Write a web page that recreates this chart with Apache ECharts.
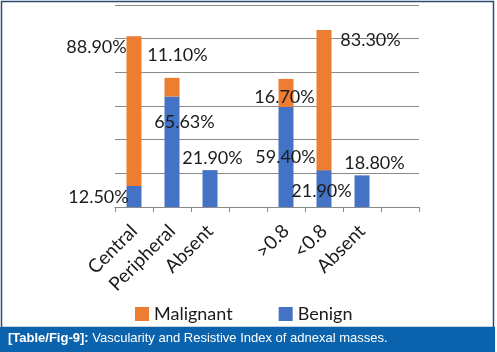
<!DOCTYPE html>
<html lang="en">
  <head>
    <meta charset="UTF-8" />
    <title>Vascularity and Resistive Index</title>
    <script src="https://cdn.jsdelivr.net/npm/echarts@6/dist/echarts.min.js"></script>
  </head>
  <body style="margin: 0; background: #fff">
    <div id="container" style="width: 497px; height: 352px"></div>
    <script>
      // data
      const categories = ["Central", "Peripheral", "Absent", "", ">0.8", "<0.8", "Absent", ""];
      const benign = [12.5, 65.63, 21.9, null, 59.4, 21.9, 18.8, null];
      const malignant = [88.9, 11.1, null, null, 16.7, 83.3, null, null];

      // hand placed label spots (px from bar top-left), like the excel original
      const benignLabelPos = [[-28, 11], [20, 26], [10, -12], null, [7, 50], [5, 21], [20, -12], null];
      const malignantLabelPos = [[-30, 11], [13, -23], null, null, [6, 18], [54, 10], null, null];

      const font = "Lato, 'Open Sans', sans-serif";

      function withLabels(values, spots) {
        return values.map((v, i) => {
          if (v == null) return null;
          return {
            value: v,
            label: {
              show: true,
              position: spots[i],
              align: "center",
              verticalAlign: "middle",
              formatter: (p) => p.value.toFixed(2) + "%",
              fontFamily: font,
              fontSize: 18,
              color: "#1b1b1b"
            }
          };
        });
      }

      let myChart = echarts.init(document.getElementById("container"));
      let option = {
        animation: false,
        grid: { left: 115, right: 78, top: 5, bottom: 145 },
        legend: {
          data: ["Malignant", "Benign"],
          left: 130,
          top: 300,
          icon: "rect",
          itemWidth: 14,
          itemHeight: 14,
          itemGap: 46,
          textStyle: { fontFamily: font, fontSize: 18, color: "#1b1b1b" }
        },
        xAxis: {
          type: "category",
          data: categories,
          axisLine: { lineStyle: { color: "#8a8a8a" } },
          axisTick: { show: true, interval: 0, length: 5, lineStyle: { color: "#8a8a8a" } },
          axisLabel: {
            interval: 0,
            rotate: 45,
            margin: 21,
            fontFamily: font,
            fontSize: 19,
            color: "#1b1b1b"
          }
        },
        yAxis: {
          type: "value",
          min: 0,
          max: 120,
          interval: 20,
          axisLabel: { show: false },
          axisLine: { show: false },
          axisTick: { show: false },
          splitLine: { lineStyle: { color: "#8a8a8a" } }
        },
        series: [
          {
            name: "Benign",
            type: "bar",
            stack: "all",
            barWidth: 15,
            itemStyle: { color: "#4472c4" },
            data: withLabels(benign, benignLabelPos)
          },
          {
            name: "Malignant",
            type: "bar",
            stack: "all",
            barWidth: 15,
            itemStyle: { color: "#ed7d31" },
            data: withLabels(malignant, malignantLabelPos)
          }
        ],
        graphic: [
          {
            type: "rect",
            shape: { x: 1.5, y: 1.5, width: 492, height: 326 },
            style: { fill: "none", stroke: "#2c4a6e", lineWidth: 1.5 }
          },
          {
            type: "rect",
            shape: { x: 0, y: 327, width: 495, height: 25 },
            style: { fill: "#0b63ad" }
          },
          {
            type: "text",
            left: 8,
            top: 332,
            style: {
              text: "{b|[Table/Fig-9]:} Vascularity and Resistive Index of adnexal masses.",
              fill: "#fff",
              font: "13px 'Liberation Sans', Arial, sans-serif",
              rich: {
                b: { fontWeight: "bold", fontSize: 13, fill: "#fff", fontFamily: "'Liberation Sans', Arial, sans-serif" }
              }
            }
          }
        ]
      };
      myChart.setOption(option);
    </script>
  </body>
</html>
